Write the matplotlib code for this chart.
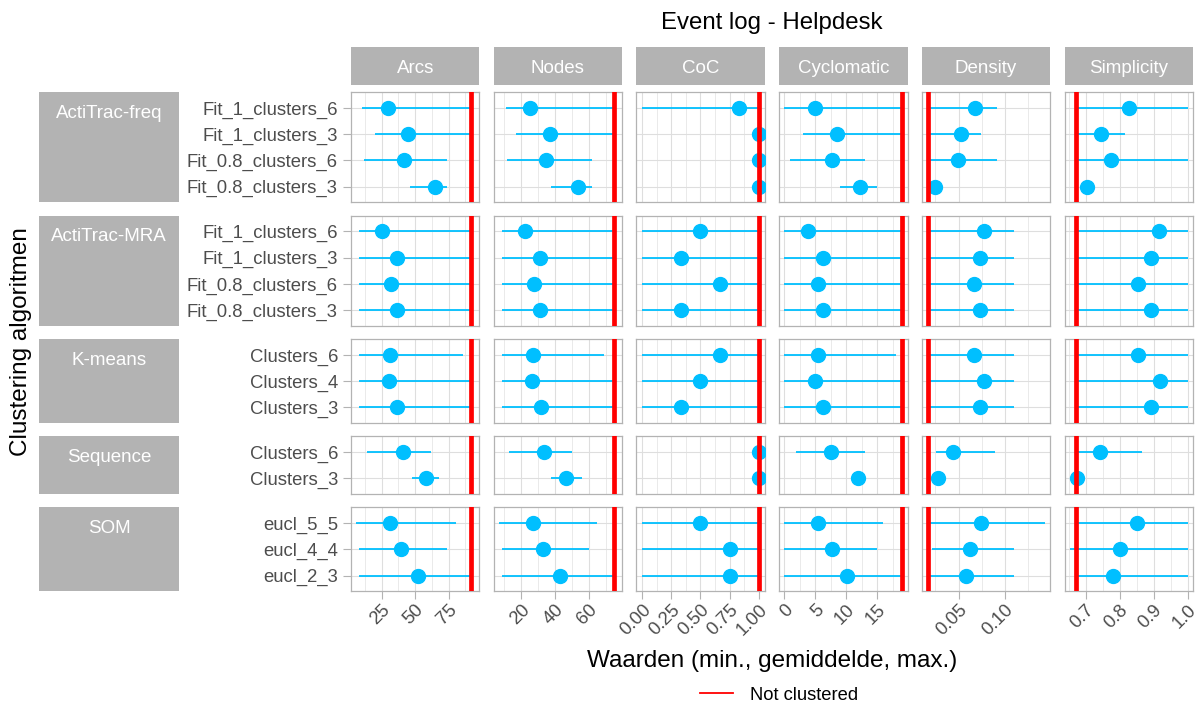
import matplotlib
matplotlib.use("Agg")
import matplotlib.pyplot as plt
from matplotlib.patches import Rectangle
from matplotlib.lines import Line2D
from matplotlib.ticker import FixedLocator, AutoMinorLocator

plt.rcParams["font.family"] = ["Liberation Sans", "DejaVu Sans"]

# --- data ---
groups = ["ActiTrac-freq", "ActiTrac-MRA", "K-means", "Sequence", "SOM"]
configs = [
    ["Fit_1_clusters_6", "Fit_1_clusters_3", "Fit_0.8_clusters_6", "Fit_0.8_clusters_3"],
    ["Fit_1_clusters_6", "Fit_1_clusters_3", "Fit_0.8_clusters_6", "Fit_0.8_clusters_3"],
    ["Clusters_6", "Clusters_4", "Clusters_3"],
    ["Clusters_6", "Clusters_3"],
    ["eucl_5_5", "eucl_4_4", "eucl_2_3"],
]
metrics = ["Arcs", "Nodes", "CoC", "Cyclomatic", "Density", "Simplicity"]

# one value per row, top to bottom over all groups
arcs_min = [10, 20, 12, 46, 8, 8, 8, 8, 8, 8, 8, 14, 48, 6, 8, 8]
arcs_mean = [29.5, 45, 42, 65, 25.5, 36.7, 31.7, 36.7, 31.5, 30.7, 36.7, 41, 58, 31.5, 39.4, 52.2]
arcs_max = [93, 93, 74, 74, 93, 93, 93, 93, 86, 93, 93, 62, 68, 80.4, 74, 93]

nodes_min = [11, 17, 12, 38, 9, 9, 9, 9, 9, 9, 9, 13, 38, 7, 9, 9]
nodes_mean = [25.3, 37, 35, 53.7, 22.5, 31.4, 27.5, 31.4, 27.1, 26.3, 31.8, 33.7, 46.7, 27.3, 33.1, 42.9]
nodes_max = [76, 76, 62, 62, 75, 75, 76, 75, 69, 75, 75, 50, 56, 65, 60, 75]

coc_min = [0, 1, 1, 1, 0, 0, 0, 0, 0, 0, 0, 1, 1, 0, 0, 0]
coc_mean = [0.833, 1, 1, 1, 0.5, 0.333, 0.667, 0.333, 0.667, 0.5, 0.333, 1, 1, 0.5, 0.75, 0.75]
coc_max = [1] * 16

cyc_min = [0, 3, 1, 9, 0, 0, 0, 0, 0, 0, 0, 2, 12, 0, 0, 0]
cyc_mean = [5, 8.6, 7.7, 12.2, 3.8, 6.3, 5.4, 6.3, 5.5, 5.0, 6.3, 7.6, 12, 5.5, 7.7, 10.1]
cyc_max = [19, 19, 13, 15, 19, 19, 19, 19, 18, 19, 19, 13, 12, 16, 15, 19]

dens_min = [0.0172, 0.0172, 0.0172, 0.018, 0.0172, 0.0172, 0.0172, 0.0172,
            0.0172, 0.0172, 0.0172, 0.0257, 0.0279, 0.0172, 0.021, 0.0172]
dens_mean = [0.068, 0.052, 0.049, 0.025, 0.0778, 0.0732, 0.0665, 0.0732,
             0.066, 0.0775, 0.0732, 0.0443, 0.0279, 0.0746, 0.0622, 0.0582]
dens_max = [0.091, 0.074, 0.091, 0.032, 0.110, 0.110, 0.110, 0.110,
            0.110, 0.110, 0.110, 0.0893, 0.0279, 0.1425, 0.110, 0.110]

simp_min = [0.674, 0.674, 0.674, 0.698, 0.674, 0.674, 0.674, 0.674,
            0.674, 0.674, 0.674, 0.674, 0.672, 0.674, 0.6535, 0.674]
simp_mean = [0.828, 0.745, 0.776, 0.703, 0.915, 0.891, 0.855, 0.891,
             0.854, 0.919, 0.891, 0.743, 0.676, 0.851, 0.801, 0.780]
simp_max = [1.0, 0.817, 1.0, 0.708, 1.0, 1.0, 1.0, 1.0,
            1.0, 1.0, 1.0, 0.866, 0.698, 1.0, 1.0, 1.0]

not_clustered = [92, 75, 1.0, 19, 0.0166, 0.672]

mins = [arcs_min, nodes_min, coc_min, cyc_min, dens_min, simp_min]
means = [arcs_mean, nodes_mean, coc_mean, cyc_mean, dens_mean, simp_mean]
maxs = [arcs_max, nodes_max, coc_max, cyc_max, dens_max, simp_max]

# axis setup per column
x_ticks = [[25, 50, 75], [20, 40, 60], [0, 0.25, 0.5, 0.75, 1.0], [0, 5, 10, 15], [0.05, 0.10], [0.7, 0.8, 0.9, 1.0]]
x_labels = [["25", "50", "75"], ["20", "40", "60"], ["0.00", "0.25", "0.50", "0.75", "1.00"],
            ["0", "5", "10", "15"], ["0.05", "0.10"], ["0.7", "0.8", "0.9", "1.0"]]
x_lims = [(2.0, 98.1), (3.9, 79.8), (-0.05, 1.052), (-0.8, 19.9), (0.0103, 0.1486), (0.638, 1.0156)]

# --- layout in pixels ---
W, H = 1203, 705
fig = plt.figure(figsize=(W / 100, H / 100), dpi=100)


def frect(x0, y0, w, h):
    return [x0 / W, 1 - (y0 + h) / H, w / W, h / H]


col_w, col_gap, left0 = 128.4, 14.3, 351
row_unit, row_gap, top0 = 26.2, 13.4, 92.3
GREY70 = "#B3B3B3"
CYAN = "#00BFFF"

row_top = top0
start = 0
for g, (grp, cfg) in enumerate(zip(groups, configs)):
    n = len(cfg)
    h = row_unit * (n + 0.2)
    sl = slice(start, start + n)
    ys = list(range(n))

    # row strip on the left
    fig.add_artist(Rectangle((39.3 / W, 1 - (row_top + h) / H), (179 - 39.3) / W, h / H,
                             transform=fig.transFigure, facecolor=GREY70, edgecolor="none"))
    fig.text(109.2 / W, 1 - (row_top + 25.5) / H, grp, color="white", fontsize=13.5,
             ha="center", va="baseline")

    for j, m in enumerate(metrics):
        x0 = left0 + j * (col_w + col_gap)
        ax = fig.add_axes(frect(x0, row_top, col_w, h))
        ax.hlines(ys, mins[j][sl], maxs[j][sl], color=CYAN, lw=1.3, zorder=2)
        ax.plot(means[j][sl], ys, "o", color=CYAN, ms=10, zorder=3)
        ax.axvline(not_clustered[j], color="red", lw=3.4, zorder=4)

        ax.set_ylim(n - 1 + 0.6, -0.6)
        ax.set_xlim(*x_lims[j])
        ax.xaxis.set_major_locator(FixedLocator(x_ticks[j]))
        ax.xaxis.set_minor_locator(AutoMinorLocator(2))
        ax.set_yticks(ys)
        ax.set_axisbelow(True)
        ax.grid(which="major", color="#DEDEDE", lw=0.8)
        ax.grid(which="minor", axis="x", color="#DEDEDE", lw=0.45)
        for s in ax.spines.values():
            s.set_color(GREY70)
            s.set_linewidth(0.9)
        ax.tick_params(which="major", color=GREY70, length=5.8, width=0.8,
                       labelsize=13.3, labelcolor="#4D4D4D", pad=3.6)
        ax.tick_params(which="minor", length=0)

        if j == 0:
            ax.set_yticklabels(cfg)
        else:
            ax.tick_params(axis="y", left=False, labelleft=False)

        if g == len(groups) - 1:
            ax.set_xticklabels(x_labels[j])
            plt.setp(ax.get_xticklabels(), rotation=45, ha="right", va="top",
                     rotation_mode="anchor")
            ax.tick_params(axis="x", pad=1.5)
        else:
            ax.tick_params(axis="x", bottom=False, labelbottom=False)

        # column strips on top
        if g == 0:
            fig.add_artist(Rectangle((x0 / W, 1 - 85 / H), col_w / W, 38.3 / H,
                                     transform=fig.transFigure, facecolor=GREY70, edgecolor="none"))
            fig.text((x0 + col_w / 2) / W, 1 - 73.3 / H, m, color="white", fontsize=13.5,
                     ha="center", va="baseline")

    start += n
    row_top += h + row_gap

# titles and labels
fig.text(772 / W, 1 - 28.5 / H, "Event log - Helpdesk", fontsize=17.3, ha="center", va="baseline")
fig.text(772 / W, 1 - 667 / H, "Waarden (min., gemiddelde, max.)", fontsize=17.5,
         ha="center", va="baseline")
fig.text(21.5 / W, 1 - 341.8 / H, "Clustering algoritmen", fontsize=17.5, rotation=90,
         ha="center", va="center")

fig.legend(handles=[Line2D([], [], color="red", lw=1.3)], labels=["Not clustered"],
           loc="center", bbox_to_anchor=(779.5 / W, 1 - 695 / H), frameon=False,
           fontsize=13.2, handlelength=1.78, handletextpad=0.95)

fig.savefig("out.png", dpi=100)
